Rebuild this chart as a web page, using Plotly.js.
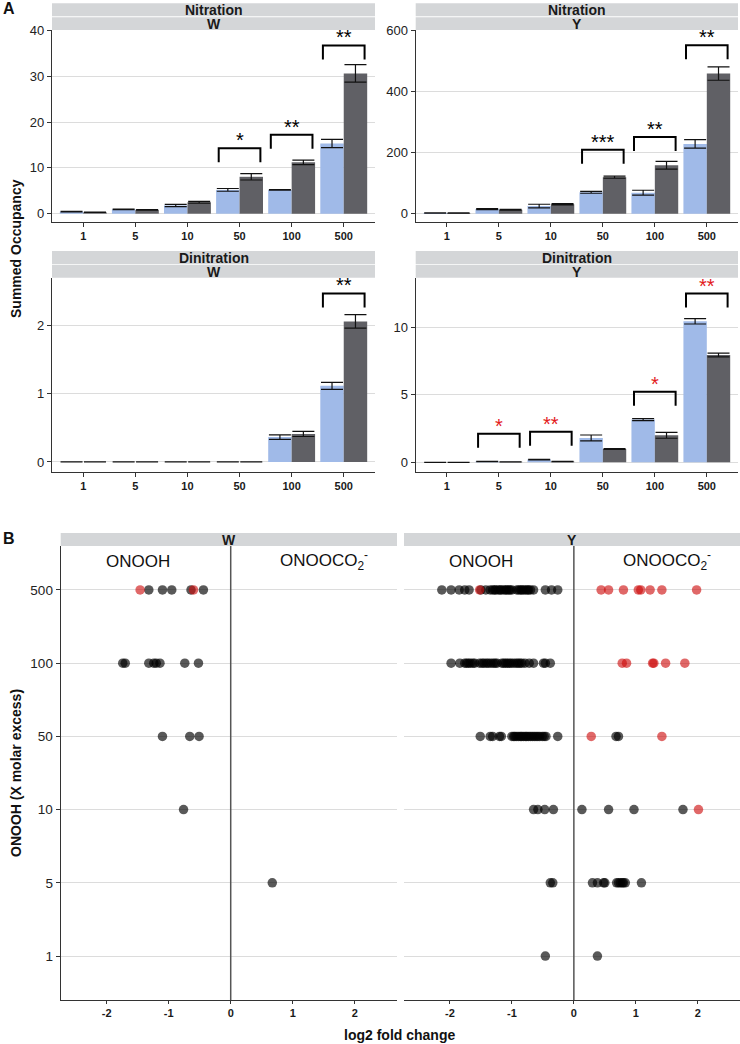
<!DOCTYPE html>
<html><head><meta charset="utf-8">
<script src="https://cdn.plot.ly/plotly-3.0.1.min.js"></script>
<style>html,body{margin:0;padding:0;background:#fff}#chart{width:740px;height:1044px}</style>
</head><body><div id="chart"></div>
<script>
// ---------- DATA ----------
const doses = ['1','5','10','50','100','500'];

// Panel A: Summed occupancy (mean and standard error)
const nitW_onooh    = [0.45, 0.95, 1.8, 5.2, 5.2, 15.3];
const nitW_onooh_se = [0.04, 0.04, 0.25, 0.3, 0.08, 0.9];
const nitW_co2      = [0.3, 0.85, 2.5, 8.05, 11.2, 30.6];
const nitW_co2_se   = [0.03, 0.05, 0.2, 0.7, 0.5, 1.9];

const nitY_onooh    = [2, 15, 25, 70, 69, 229];
const nitY_onooh_se = [0.5, 2, 6, 3, 8, 14];
const nitY_co2      = [2, 13, 31, 120, 159, 460];
const nitY_co2_se   = [0.5, 1.5, 2, 3, 13, 22];

const dinW_onooh    = [0, 0, 0, 0, 0.365, 1.115];
const dinW_onooh_se = [0, 0, 0, 0, 0.033, 0.05];
const dinW_co2      = [0, 0, 0, 0, 0.41, 2.06];
const dinW_co2_se   = [0, 0, 0, 0, 0.037, 0.1];

const dinY_onooh    = [0, 0.05, 0.2, 1.8, 3.16, 10.44];
const dinY_onooh_se = [0, 0.01, 0.02, 0.22, 0.08, 0.2];
const dinY_co2      = [0, 0.03, 0.05, 0.99, 2.0, 7.95];
const dinY_co2_se   = [0, 0.01, 0.01, 0.03, 0.22, 0.14];

// significance brackets: category index, bracket height, label
const nitW_sigIdx = [3, 4, 5];   const nitW_sigY = [14.3, 17.2, 36.7];  const nitW_sigLab = ['*', '**', '**'];
const nitY_sigIdx = [3, 4, 5];   const nitY_sigY = [210, 252, 553];     const nitY_sigLab = ['***', '**', '**'];
const dinW_sigIdx = [5];         const dinW_sigY = [2.47];              const dinW_sigLab = ['**'];
const dinY_sigIdx = [1, 2, 4, 5];const dinY_sigY = [2.12, 2.27, 5.23, 12.5]; const dinY_sigLab = ['*', '**', '*', '**'];

// Panel B: log2 fold change per site, by ONOOH molar excess
const W_gray_500 = [-1.32, -1.10, -0.95, -0.64, -0.44];
const W_red_500  = [-1.46, -0.60];
const W_gray_100 = [-1.74, -1.70, -1.32, -1.24, -1.20, -1.14, -0.74, -0.52];
const W_gray_50  = [-1.10, -0.66, -0.51];
const W_gray_10  = [-0.76];
const W_gray_5   = [0.67];

const Y_gray_500 = [-2.13, -1.98, -1.85, -1.76, -1.69, -1.50, -1.42, -1.35, -1.31, -1.28, -1.26, -1.22, -1.19,
                    -1.17, -1.13, -1.10, -1.08, -1.05, -1.03, -1.00, -0.92, -0.89, -0.86, -0.84, -0.81, -0.78,
                    -0.75, -0.73, -0.70, -0.65, -0.46, -0.36, -0.26];
const Y_red_500  = [-1.52, 0.44, 0.56, 0.80, 1.04, 1.08, 1.23, 1.42, 1.98];
const Y_gray_100 = [-1.98, -1.84, -1.76, -1.73, -1.70, -1.67, -1.63, -1.60, -1.52, -1.48, -1.45, -1.41, -1.38,
                    -1.34, -1.30, -1.27, -1.24, -1.16, -1.13, -1.10, -1.07, -1.04, -1.01, -0.97, -0.93, -0.90,
                    -0.87, -0.84, -0.79, -0.72, -0.65, -0.49, -0.46, -0.38];
const Y_red_100  = [0.78, 0.85, 1.27, 1.29, 1.48, 1.79];
const Y_gray_50  = [-1.51, -1.35, -1.31, -1.20, -1.17, -1.00, -0.97, -0.95, -0.92, -0.89, -0.86, -0.84, -0.81,
                    -0.78, -0.76, -0.73, -0.70, -0.67, -0.64, -0.61, -0.58, -0.55, -0.51, -0.48, -0.45, -0.26,
                    0.68, 0.72];
const Y_red_50   = [0.28, 1.42];
const Y_gray_10  = [-0.65, -0.58, -0.47, -0.33, 0.13, 0.56, 0.97, 1.76];
const Y_red_10   = [2.01];
const Y_gray_5   = [-0.38, -0.34, 0.30, 0.38, 0.48, 0.50, 0.69, 0.72, 0.75, 0.78, 0.80, 0.83, 1.09];
const Y_gray_1   = [-0.46, 0.38];

const xTicksFC = [-2, -1, 0, 1, 2];

// ---------- STYLE / LAYOUT ----------
const W = 740, H = 1044;
const FONT = 'Liberation Sans, Arial, Helvetica, sans-serif';
const BLUE = '#a0bae8', DARK = '#606065';
const STRIP = '#d4d6d8', GRID = '#dcdcdc', AXIS = '#333333';
const RED = '#e31a1c';
const px = v => v / W;
const py = v => 1 - v / H;

const colL = [52, 375], colR = [415.7, 738];
const rowT = [30, 222], rowB = [277.7, 472];
const bL = [60.7, 397], bR = [404, 740], bRow = [546, 1000];

const idx = doses.map((d, i) => i);

function barX(anchor, dom) {
  return { domain: [px(dom[0]), px(dom[1])], anchor, range: [-0.6, 5.6],
    tickmode: 'array', tickvals: idx, ticktext: doses,
    showline: true, linecolor: AXIS, linewidth: 1.1, ticks: 'outside', ticklen: 4, tickcolor: AXIS,
    showgrid: false, zeroline: false, fixedrange: true,
    tickfont: { family: FONT, size: 11, weight: 'bold', color: '#1a1a1a' } };
}
function barY(anchor, row, range, tv) {
  return { domain: [py(row[1]), py(row[0])], anchor, range, tickmode: 'array', tickvals: tv,
    showline: true, linecolor: AXIS, linewidth: 1.1, ticks: 'outside', ticklen: 4, tickcolor: AXIS,
    showgrid: true, gridcolor: GRID, gridwidth: 1, zeroline: false, fixedrange: true,
    tickfont: { family: FONT, size: 13, color: '#222' } };
}

const traces = [];
function addBars(xa, ya, a, ase, b, bse) {
  const eb = (arr) => ({ type: 'data', array: arr, visible: true, color: '#111', thickness: 1.2, width: 11 });
  traces.push({ type: 'bar', x: idx, y: a, xaxis: xa, yaxis: ya, name: 'ONOOH',
    marker: { color: BLUE, line: { width: 0 } }, error_y: eb(ase), showlegend: false, hoverinfo: 'skip' });
  traces.push({ type: 'bar', x: idx, y: b, xaxis: xa, yaxis: ya, name: 'ONOOCO2-',
    marker: { color: DARK, line: { width: 0 } }, error_y: eb(bse), showlegend: false, hoverinfo: 'skip' });
}
addBars('x', 'y', nitW_onooh, nitW_onooh_se, nitW_co2, nitW_co2_se);
addBars('x2', 'y2', nitY_onooh, nitY_onooh_se, nitY_co2, nitY_co2_se);
addBars('x3', 'y3', dinW_onooh, dinW_onooh_se, dinW_co2, dinW_co2_se);
addBars('x4', 'y4', dinY_onooh, dinY_onooh_se, dinY_co2, dinY_co2_se);

function addPoints(xa, ya, rows, color) {
  const xs = [], ys = [];
  rows.forEach(([dose, arr]) => arr.forEach(v => { xs.push(v); ys.push(dose); }));
  traces.push({ type: 'scatter', mode: 'markers', x: xs, y: ys, xaxis: xa, yaxis: ya,
    marker: { size: 9.5, color, line: { width: 0 } }, showlegend: false, hoverinfo: 'skip' });
}
const GRAYPT = 'rgba(0,0,0,0.65)', REDPT = 'rgba(205,12,12,0.62)';
addPoints('x5', 'y5', [['500', W_gray_500], ['100', W_gray_100], ['50', W_gray_50], ['10', W_gray_10], ['5', W_gray_5]], GRAYPT);
addPoints('x5', 'y5', [['500', W_red_500]], REDPT);
addPoints('x6', 'y6', [['500', Y_gray_500], ['100', Y_gray_100], ['50', Y_gray_50], ['10', Y_gray_10], ['5', Y_gray_5], ['1', Y_gray_1]], GRAYPT);
addPoints('x6', 'y6', [['500', Y_red_500], ['100', Y_red_100], ['50', Y_red_50], ['10', Y_red_10]], REDPT);

const shapes = [], annotations = [];

function strip(xr, yr, lines) {
  const n = lines.length, h = (yr[1] - yr[0]) / n;
  lines.forEach((t, k) => {
    const y0 = yr[0] + k * h + (k > 0 ? 0.5 : 0), y1 = yr[0] + (k + 1) * h - (k < n - 1 ? 0.3 : 0);
    shapes.push({ type: 'rect', xref: 'paper', yref: 'paper', x0: px(xr[0]), x1: px(xr[1]), y0: py(y1), y1: py(y0),
      fillcolor: STRIP, line: { width: 0 } });
    annotations.push({ xref: 'paper', yref: 'paper', x: px((xr[0] + xr[1]) / 2), y: py(yr[0] + (k + 0.5) * h + 0.5),
      text: t, showarrow: false, xanchor: 'center', yanchor: 'middle',
      font: { family: FONT, size: 14, weight: 'bold', color: '#1a1a1a' } });
  });
}
strip(colL, [3.3, 30], ['Nitration', 'W']);
strip(colR, [3.3, 30], ['Nitration', 'Y']);
strip(colL, [251, 277.7], ['Dinitration', 'W']);
strip(colR, [251, 277.7], ['Dinitration', 'Y']);
strip(bL, [533, 546], ['W']);
strip(bR, [533, 546], ['Y']);

function brackets(xa, ya, ids, ys, labs, color) {
  ids.forEach((i, k) => {
    shapes.push({ type: 'path', xref: xa, yref: ya, ysizemode: 'pixel', yanchor: ys[k],
      path: `M ${i - 0.4},-14 L ${i - 0.4},0 L ${i + 0.4},0 L ${i + 0.4},-14`,
      line: { color: '#000', width: 2 } });
    annotations.push({ xref: xa, yref: ya, x: i, y: ys[k], text: labs[k], showarrow: false,
      xanchor: 'center', yanchor: 'bottom', yshift: -5,
      font: { family: FONT, size: 20, color } });
  });
}
brackets('x', 'y', nitW_sigIdx, nitW_sigY, nitW_sigLab, '#000');
brackets('x2', 'y2', nitY_sigIdx, nitY_sigY, nitY_sigLab, '#000');
brackets('x3', 'y3', dinW_sigIdx, dinW_sigY, dinW_sigLab, '#000');
brackets('x4', 'y4', dinY_sigIdx, dinY_sigY, dinY_sigLab, RED);

// zero reference lines in panel B
['x5', 'x6'].forEach((xa, k) => shapes.push({ type: 'line', xref: xa, yref: (k ? 'y6' : 'y5') + ' domain',
  x0: 0, x1: 0, y0: 0, y1: 1, line: { color: '#555', width: 1.5 } }));

// panel B reagent labels
[['x5', 'y5'], ['x6', 'y6']].forEach(([xa, ya]) => {
  const yd = (bRow[1] - 561) / (bRow[1] - bRow[0]);
  annotations.push({ xref: xa, yref: ya + ' domain', x: -1.5, y: yd, text: 'ONOOH', showarrow: false,
    xanchor: 'center', yanchor: 'middle', font: { family: FONT, size: 17, color: '#111' } });
  annotations.push({ xref: xa, yref: ya + ' domain', x: 1.5, y: yd + 0.002, text: 'ONOOCO<sub>2</sub><sup>-</sup>', showarrow: false,
    xanchor: 'center', yanchor: 'middle', font: { family: FONT, size: 17, color: '#111' } });
});

// titles and panel letters
const T = (x, y, text, size, extra) => annotations.push(Object.assign({ xref: 'paper', yref: 'paper', x: px(x), y: py(y),
  text, showarrow: false, xanchor: 'center', yanchor: 'middle', font: { family: FONT, size, weight: 'bold', color: '#111' } }, extra || {}));
T(16, 249, 'Summed Occupancy', 14, { textangle: -90 });
T(16, 773, 'ONOOH (X molar excess)', 14, { textangle: -90 });
T(399, 1035, 'log2 fold change', 14);
T(1, 8.5, 'A', 16, { xanchor: 'left' });
T(1, 538, 'B', 16, { xanchor: 'left' });

function fcX(anchor, dom) {
  return { domain: [px(dom[0]), px(dom[1])], anchor, range: [-2.74, 2.68],
    tickmode: 'array', tickvals: xTicksFC, ticktext: xTicksFC.map(String),
    showline: true, linecolor: AXIS, linewidth: 1.1, ticks: 'outside', ticklen: 3, tickcolor: AXIS,
    showgrid: false, zeroline: false, fixedrange: true,
    tickfont: { family: FONT, size: 11, weight: 'bold', color: '#1a1a1a' } };
}
function fcY(anchor, show) {
  return { domain: [py(bRow[1]), py(bRow[0])], anchor, type: 'category', categoryorder: 'array', categoryarray: doses,
    range: [-0.6, 5.6], showline: show, linecolor: AXIS, linewidth: 1.1, ticks: show ? 'outside' : '', ticklen: 4,
    tickcolor: AXIS, showticklabels: show, showgrid: true, gridcolor: GRID, gridwidth: 1, zeroline: false, fixedrange: true,
    tickfont: { family: FONT, size: 13.5, color: '#222' } };
}

const layout = {
  width: W, height: H, autosize: false, margin: { l: 0, r: 0, t: 0, b: 0 },
  paper_bgcolor: '#fff', plot_bgcolor: 'rgba(0,0,0,0)', showlegend: false,
  barmode: 'group', bargap: 0.1, bargroupgap: 0,
  font: { family: FONT, color: '#222' },
  xaxis: barX('y', colL), yaxis: barY('x', rowT, [-1.81, 40.07], [0, 10, 20, 30, 40]),
  xaxis2: barX('y2', colR), yaxis2: barY('x2', rowT, [-27.3, 603], [0, 200, 400, 600]),
  xaxis3: barX('y3', colL), yaxis3: barY('x3', rowB, [-0.147, 2.70], [0, 1, 2]),
  xaxis4: barX('y4', colR), yaxis4: barY('x4', rowB, [-0.72, 13.67], [0, 5, 10]),
  xaxis5: fcX('y5', bL), yaxis5: fcY('x5', true),
  xaxis6: fcX('y6', bR), yaxis6: fcY('x6', false),
  shapes, annotations
};

Plotly.newPlot('chart', traces, layout, { staticPlot: true, displayModeBar: false });
</script>
</body></html>
